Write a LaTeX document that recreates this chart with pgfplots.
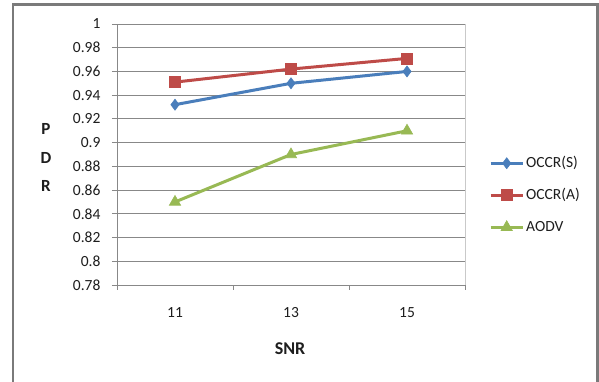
\documentclass[border=0pt]{standalone}
\usepackage{fontspec}
\setmainfont{Carlito}
\usepackage{pgfplots}
\pgfplotsset{compat=1.18}

\definecolor{sblue}{HTML}{4A7EBB}
\definecolor{sred}{HTML}{BE4B48}
\definecolor{sgreen}{HTML}{98B954}
\definecolor{gridgray}{HTML}{888888}
\definecolor{framegray}{HTML}{7A7A7A}
\definecolor{txt}{HTML}{1E1E1E}

\begin{document}
\begin{tikzpicture}
% page area and chart frame
\path[use as bounding box] (-117pt,-97pt) rectangle (482pt,285pt);
\fill[white] (-117pt,-97pt) rectangle (482pt,285pt);
\draw[framegray, line width=2.2pt] (-104pt,-100pt) -- (-104pt,280.5pt) -- (480.5pt,280.5pt) -- (480.5pt,-100pt);

\begin{axis}[
  at={(0pt,0pt)}, anchor=south west,
  scale only axis, width=348pt, height=261pt,
  xmin=-0.5, xmax=2.5, ymin=0.78, ymax=1,
  xtick={0,1,2}, xticklabels={11,13,15},
  ytick={0.78,0.80,0.82,0.84,0.86,0.88,0.90,0.92,0.94,0.96,0.98,1.00},
  yticklabels={0.78,0.8,0.82,0.84,0.86,0.88,0.9,0.92,0.94,0.96,0.98,1},
  minor xtick={-0.5,0.5,1.5,2.5},
  axis lines*=left,
  axis line style={gridgray, line width=0.9pt},
  tick align=outside,
  major tick length=5pt, minor tick length=5pt,
  major x tick style={draw=none},
  minor x tick style={draw=gridgray, line width=0.9pt},
  ytick style={draw=gridgray, line width=0.9pt},
  ymajorgrids, major grid style={gridgray, line width=0.9pt},
  tick label style={font=\fontsize{15.5}{18}\selectfont, text=txt},
  yticklabel style={xshift=-8pt},
  xticklabel style={yshift=-14pt},
  clip=false,
  legend style={draw=none, fill=none, at={(rel axis cs:1.069,0.498)}, anchor=north west,
    inner sep=0pt, row sep=16pt, column sep=1pt,
    nodes={inner sep=1pt, text height=11pt, text depth=3pt, font=\fontsize{15.5}{18}\selectfont, text=txt}},
  legend cell align=left,
  legend image code/.code={\draw[mark repeat=2, mark phase=2, #1] plot coordinates {(0pt,0pt) (16pt,0pt) (32pt,0pt)};},
]
\addplot[sblue, line width=3pt, mark=diamond*, mark size=5.5pt, mark options={solid, fill=sblue, line width=0.6pt}]
  coordinates {(0,0.932) (1,0.950) (2,0.960)};
\addlegendentry{OCCR(S)}
\addplot[sred, line width=3pt, mark=square*, mark size=5.5pt, mark options={solid, fill=sred, line width=0.6pt}]
  coordinates {(0,0.951) (1,0.962) (2,0.971)};
\addlegendentry{OCCR(A)}
\addplot[sgreen, line width=3pt, mark=triangle*, mark size=6.5pt, mark options={solid, fill=sgreen, line width=0.6pt}]
  coordinates {(0,0.850) (1,0.890) (2,0.910)};
\addlegendentry{AODV}
\end{axis}

% faint right edge of the plot area
\draw[gridgray!45, line width=0.9pt] (348pt,0pt) -- (348pt,261pt);

% axis titles
\node[font=\bfseries\fontsize{17}{20}\selectfont, text=txt] at (-71pt,156pt) {P};
\node[font=\bfseries\fontsize{17}{20}\selectfont, text=txt] at (-71pt,127pt) {D};
\node[font=\bfseries\fontsize{17}{20}\selectfont, text=txt] at (-71pt,99pt) {R};
\node[font=\bfseries\fontsize{18}{21}\selectfont, text=txt] at (173pt,-64pt) {SNR};
\end{tikzpicture}
\end{document}
